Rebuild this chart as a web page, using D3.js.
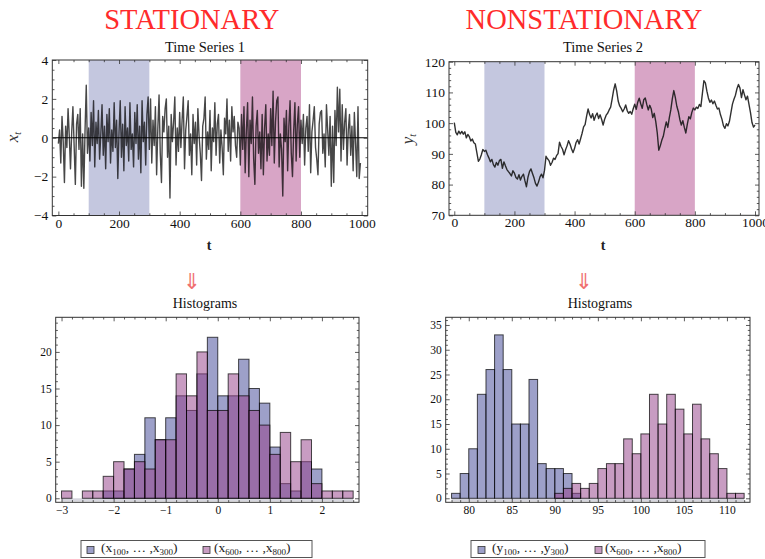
<!DOCTYPE html>
<html>
<head>
<meta charset="utf-8">
<script src="https://cdn.jsdelivr.net/npm/d3@7"></script>
<style>
  body { margin: 0; background: #fff; }
  svg { display: block; }
</style>
</head>
<body>
<svg id="fig" width="765" height="559"></svg>
<script>
// ---------- data ----------
// Time Series 1 (x_t), one value every 4 steps of t
const series1Step = 4;
const series1 = [
  -0.3, 0.4, -1.3, 1.1, -0.2, -2.3, 0.6, -0.5, 1.5, 0.1, -1.6, 0.3, 1.6, -0.4, -2.4, 0.7, 1.2, -0.6, 1.5, -2.5, 0.2, -2.6, 0.4, 2.7, -0.8,
  0.5, -1.2, 1.3, -0.4, 1.9, -1.5, 0.8, -0.3, 1.4, -1.1, 0.2, 1.7, -0.9, 0.6, -1.6, 1.2, -0.2, 1.5, -1.3, 0.4, -0.7, 1.8, -0.5, 0.9, -2.1,
  0.3, 1.9, -1.0, 0.7, -1.7, 1.6, -0.4, 0.5, -1.2, 1.8, -0.6, 0.2, -1.5, 1.3, -0.3, 1.7, -1.1, 0.6, -1.8, 1.9, -0.2, 0.8, -1.4, 1.2, 2.1,
  -0.6, 2.0, -1.3, 0.9, -0.4, 1.6, -1.9, 0.5, 2.2, -0.8, -2.3, 1.1, 0.3, 1.5, 2.0, -1.0, 0.6, -3.1, 1.2, -0.2, 0.8, 2.1, -1.4, 0.5, -0.7,
  1.3, -0.5, 0.9, 2.1, -1.6, 0.4, 1.1, 1.9, -0.9, 0.2, -1.9, 1.2, -0.3, 0.8, -1.4, 1.5, 0.1, -0.8, -2.2, 0.6, 1.0, 2.1, -1.1, 0.3, -0.6,
  1.4, -1.7, 0.5, -0.2, 1.8, -0.9, 0.7, 1.2, -1.3, 0.4, -0.5, -1.9, 1.0, 0.2, 2.0, -0.7, 0.9, -1.2, 1.6, 0.3, 1.1, -0.4, -1.0, 0.8, 0.5,
  -1.4, 1.2, -0.6, 1.6, -1.8, 0.4, 1.8, -2.0, 0.9, -0.3, 2.1, -1.1, -2.4, 0.6, 1.4, -0.8, 0.3, -1.6, 1.2, -1.9, 0.5, 1.7, -1.2, 0.2, -0.9,
  1.5, -0.4, 2.4, -1.3, 0.8, 1.9, 2.1, -1.5, 0.2, -0.6, -3.0, 1.0, -0.2, 1.4, -1.7, 0.6, 1.9, -0.8, -2.0, 0.4, 1.8, -1.2, 0.7, 1.6, -1.0,
  0.9, -0.3, 1.2, -1.4, 0.5, 1.1, -0.7, 1.7, -1.8, 0.3, 0.9, 1.6, -0.5, -1.1, -1.9, 0.7, 1.3, 1.4, -0.8, 0.2, -1.5, 1.7, 0.4, -0.9, 1.1,
  -2.5, 0.6, -2.3, 1.4, -0.4, 2.6, 0.3, 2.5, -1.2, 1.7, -0.6, 0.8, 1.5, -1.4, 0.4, 1.2, -0.9, 0.6, -1.7, 1.3, -0.3, -2.0, 1.6, -2.1, -1.3
];

// Time Series 2 (y_t), one value every 5 steps of t
const series2Step = 5;
const series2 = [
  100.2, 97.0, 96.2, 97.4, 96.5, 97.3, 96.4, 97.2, 95.2, 96.3, 95.6, 94.2, 94.8, 93.6, 93.2, 90.4, 87.6, 88.3, 89.7, 91.4,
  90.8, 91.2, 89.8, 88.7, 87.4, 88.2, 86.5, 85.7, 87.2, 86.3, 87.8, 88.2, 85.3, 87.4, 86.1, 84.9, 84.2, 83.6, 82.8, 84.5,
  83.7, 82.3, 81.8, 83.2, 81.5, 82.7, 83.4, 81.2, 79.3, 82.4, 84.2, 85.1, 83.6, 82.2, 80.4, 79.5, 80.8, 82.5, 83.4, 82.2,
  84.6, 89.2, 88.4, 87.8, 86.3, 87.2, 88.6, 88.2, 89.4, 90.1, 93.8, 92.4, 91.5, 89.7, 91.3, 92.6, 94.3, 93.1, 91.6, 90.4,
  91.8, 93.7, 94.6, 93.2, 94.9, 96.7, 98.8, 99.5, 102.3, 104.6, 102.8, 101.7, 103.1, 100.9, 102.4, 103.3, 101.5, 102.7, 101.2, 99.4,
  101.3, 102.6, 103.2, 104.3, 105.2, 107.9, 110.8, 112.8, 110.5, 107.2, 105.6, 104.8, 103.7, 104.6, 105.9, 104.1, 103.2, 103.8, 102.9, 104.7,
  106.2, 104.5, 106.8, 108.1, 106.3, 104.8, 107.6, 108.2, 106.1, 104.3, 105.8, 104.6, 101.8, 103.2, 100.5, 96.8, 91.2, 92.6, 94.4, 95.7,
  98.2, 100.4, 98.6, 101.7, 104.3, 107.9, 110.6, 108.4, 105.5, 103.8, 101.2, 99.4, 100.8, 98.6, 96.8, 99.7, 102.1, 101.4, 103.5, 104.9,
  104.3, 105.2, 104.8, 106.1, 105.4, 109.6, 113.8, 113.1, 110.4, 108.2, 106.8, 107.5, 106.3, 107.2, 105.8, 104.6, 104.9, 102.8, 101.3, 99.2,
  98.3, 99.8, 99.1, 100.6, 103.4, 106.2, 107.8, 109.1, 111.2, 112.6, 111.4, 108.3, 110.9, 109.2, 107.6, 108.8, 106.1, 103.4, 100.2, 98.7,
  99.4
];

// highlighted windows of t
const windowsT = [[100, 300], [600, 800]];

// histogram of Time Series 1 windows (bin left edges, width 0.2)
const hist1Width = 0.2;
const hist1Bins = [-3.0, -2.8, -2.6, -2.4, -2.2, -2.0, -1.8, -1.6, -1.4, -1.2, -1.0, -0.8, -0.6, -0.4,
                   -0.2, 0.0, 0.2, 0.4, 0.6, 0.8, 1.0, 1.2, 1.4, 1.6, 1.8, 2.0, 2.2, 2.4];
const hist1A = [0, 0, 0, 0, 1, 1, 4, 6, 11, 8, 11, 14, 12, 17, 22, 14, 14, 19, 15, 13, 7, 2, 1, 5, 4, 0, 0, 0];
const hist1B = [1, 0, 1, 1, 3, 5, 4, 5, 4, 8, 8, 17, 14, 20, 12, 12, 17, 14, 12, 10, 6, 9, 5, 8, 2, 1, 1, 1];

// histogram of Time Series 2 windows (bin left edges, width 1)
const hist2Width = 1;
const hist2Bins = [78, 79, 80, 81, 82, 83, 84, 85, 86, 87, 88, 89, 90, 91, 92, 93, 94,
                   95, 96, 97, 98, 99, 100, 101, 102, 103, 104, 105, 106, 107, 108, 109, 110, 111];
const hist2A = [1, 5, 10, 21, 26, 33, 26, 15, 15, 24, 7, 6, 6, 5, 1, 0, 0,
                0, 0, 0, 0, 0, 0, 0, 0, 0, 0, 0, 0, 0, 0, 0, 0, 0];
const hist2B = [0, 0, 0, 0, 0, 0, 0, 0, 0, 0, 0, 0, 1, 2, 3, 2, 3,
                6, 7, 7, 12, 9, 13, 21, 15, 21, 18, 13, 19, 12, 9, 6, 1, 1];

// tick labels
const tsTicksX = [0, 200, 400, 600, 800, 1000];
const ts1TicksY = [-4, -2, 0, 2, 4];
const ts2TicksY = [70, 80, 90, 100, 110, 120];
const hist1TicksX = [-3, -2, -1, 0, 1, 2];
const hist1TicksY = [0, 5, 10, 15, 20];
const hist2TicksX = [80, 85, 90, 95, 100, 105, 110];
const hist2TicksY = [0, 5, 10, 15, 20, 25, 30, 35];

// text
const headings = ["STATIONARY", "NONSTATIONARY"];
const plotTitles = ["Time Series 1", "Time Series 2"];
const legend1 = [["x", "100", "300"], ["x", "600", "800"]];
const legend2 = [["y", "100", "300"], ["x", "600", "800"]];

// ---------- styles ----------
const SERIF = "'Liberation Serif', 'Times New Roman', serif";
const SHADE = ["#c4c7df", "#d8a5c6"];
const BAR = [
  { fill: "#50559f", op: 0.56 },
  { fill: "#95418a", op: 0.52 }
];
const FRAME = "#333";

const svg = d3.select("#fig");

// ---------- helpers ----------
function frameAxes(g, x, y, o) {
  const [x0, x1] = x.range();
  const [yb, yt] = y.range();
  const MAJ = 4, MIN = 2.2;
  const add = (axis, tr, vals, size, fmt, pad, fs) => {
    const a = axis.tickValues(vals).tickSizeInner(-size).tickSizeOuter(0)
      .tickPadding(pad).tickFormat(fmt || (() => ""));
    const s = g.append("g").attr("transform", tr).call(a);
    s.select(".domain").remove();
    s.attr("font-family", SERIF).attr("font-size", fs);
    s.selectAll("line").attr("stroke", FRAME).attr("stroke-width", 0.8);
    s.selectAll("text").attr("fill", "#111");
  };
  const fmt = o.fmt;
  // bottom / left with labels
  add(d3.axisBottom(x), `translate(0,${yb})`, o.xMajor, MAJ, fmt, o.xPad, o.fs);
  add(d3.axisBottom(x), `translate(0,${yb})`, o.xMinor, MIN, null, 0, o.fs);
  add(d3.axisLeft(y), `translate(${x0},0)`, o.yMajor, MAJ, fmt, o.yPad, o.fs);
  add(d3.axisLeft(y), `translate(${x0},0)`, o.yMinor, MIN, null, 0, o.fs);
  // top / right mirrors
  add(d3.axisTop(x), `translate(0,${yt})`, o.xMajor, MAJ, null, 0, o.fs);
  add(d3.axisTop(x), `translate(0,${yt})`, o.xMinor, MIN, null, 0, o.fs);
  add(d3.axisRight(y), `translate(${x1},0)`, o.yMajor, MAJ, null, 0, o.fs);
  add(d3.axisRight(y), `translate(${x1},0)`, o.yMinor, MIN, null, 0, o.fs);
  g.append("rect").attr("x", x0).attr("y", yt).attr("width", x1 - x0).attr("height", yb - yt)
    .attr("fill", "none").attr("stroke", FRAME).attr("stroke-width", 1);
}

function minorTicks(lo, hi, step, majors) {
  return d3.range(lo, hi + step / 2, step)
    .map(v => +v.toFixed(6))
    .filter(v => !majors.some(m => Math.abs(m - v) < 1e-6));
}

function drawSeries(o) {
  const g = svg.append("g");
  const x = d3.scaleLinear().domain(o.xDom).range(o.xRange);
  const y = d3.scaleLinear().domain(o.yDom).range(o.yRange);
  const clipId = "clip" + o.id;
  svg.append("clipPath").attr("id", clipId).append("rect")
    .attr("x", o.xRange[0]).attr("y", o.yRange[1])
    .attr("width", o.xRange[1] - o.xRange[0]).attr("height", o.yRange[0] - o.yRange[1]);
  const inner = g.append("g").attr("clip-path", `url(#${clipId})`);
  windowsT.forEach((w, i) => {
    inner.append("rect")
      .attr("x", x(w[0])).attr("width", x(w[1]) - x(w[0]))
      .attr("y", o.yRange[1]).attr("height", o.yRange[0] - o.yRange[1])
      .attr("fill", SHADE[i]);
  });
  if (o.yDom[0] < 0 && o.yDom[1] > 0) {
    inner.append("line").attr("x1", o.xRange[0]).attr("x2", o.xRange[1])
      .attr("y1", y(0)).attr("y2", y(0)).attr("stroke", "#000").attr("stroke-width", 1);
  }
  const line = d3.line().x((d, i) => x(i * o.step)).y(d => y(d));
  inner.append("path").datum(o.values).attr("d", line)
    .attr("fill", "none").attr("stroke", o.stroke).attr("stroke-width", o.strokeWidth)
    .attr("stroke-opacity", o.strokeOpacity).attr("stroke-linejoin", "round");
  frameAxes(g, x, y, {
    xMajor: tsTicksX, xMinor: minorTicks(0, 1000, 50, tsTicksX),
    yMajor: o.yMajor, yMinor: o.yMinor, fmt: d3.format("d"),
    xPad: 2.5, yPad: 4, fs: 13.5
  });
  // titles and axis labels
  g.append("text").attr("x", o.titleX).attr("y", 52).attr("text-anchor", "middle")
    .attr("font-family", SERIF).attr("font-size", 14.5).attr("fill", "#111").text(o.title);
  g.append("text").attr("x", o.tX).attr("y", 250).attr("text-anchor", "middle")
    .attr("font-family", SERIF).attr("font-size", 14).attr("font-weight", "bold").attr("fill", "#222").text("t");
  const yl = g.append("text").attr("transform", `translate(${o.ylX},${o.ylY}) rotate(-90)`)
    .attr("text-anchor", "middle").attr("font-family", SERIF).attr("font-style", "italic")
    .attr("font-size", 17).attr("fill", "#333");
  yl.append("tspan").text(o.ylLetter);
  yl.append("tspan").attr("font-size", 10).attr("dy", 3).text("t");
}

function drawHist(o) {
  const g = svg.append("g");
  const x = d3.scaleLinear().domain(o.xDom).range(o.xRange);
  const y = d3.scaleLinear().domain(o.yDom).range(o.yRange);
  // baseline strip under the bins
  g.append("rect")
    .attr("x", x(o.bins[0])).attr("width", x(o.bins[o.bins.length - 1] + o.width) - x(o.bins[0]))
    .attr("y", y(0)).attr("height", y(o.yDom[0]) - y(0) - 1)
    .attr("fill", "#d6d6de");
  [o.a, o.b].forEach((counts, k) => {
    const data = o.bins.map((b, i) => ({ b, c: counts[i] })).filter(d => d.c > 0);
    g.append("g").selectAll("rect").data(data).join("rect")
      .attr("x", d => x(d.b)).attr("width", d => x(d.b + o.width) - x(d.b))
      .attr("y", d => y(d.c)).attr("height", d => y(0) - y(d.c))
      .attr("fill", BAR[k].fill).attr("fill-opacity", BAR[k].op)
      .attr("stroke", "#000").attr("stroke-opacity", 0.7).attr("stroke-width", 1);
  });
  frameAxes(g, x, y, {
    xMajor: o.xMajor, xMinor: o.xMinor, yMajor: o.yMajor, yMinor: o.yMinor,
    fmt: d3.format("d"), xPad: 3.5, yPad: 4, fs: 11.5
  });
  g.append("text").attr("x", o.titleX).attr("y", 308).attr("text-anchor", "middle")
    .attr("font-family", SERIF).attr("font-size", 14).attr("fill", "#111").text("Histograms");
}

function drawLegend(o) {
  const g = svg.append("g");
  g.append("rect").attr("x", o.x0).attr("y", 540.5).attr("width", o.x1 - o.x0).attr("height", 17)
    .attr("fill", "#fff").attr("stroke", "#555").attr("stroke-width", 1);
  o.items.forEach((it, i) => {
    g.append("rect").attr("x", o.sw[i]).attr("y", 546.5).attr("width", 7).attr("height", 7)
      .attr("fill", BAR[i].fill).attr("fill-opacity", BAR[i].op)
      .attr("stroke", "#333").attr("stroke-width", 0.8);
    const t = g.append("text").attr("x", o.tx[i]).attr("y", 552)
      .attr("font-family", SERIF).attr("font-size", 13.5).attr("fill", "#222");
    t.append("tspan").text("(" + it[0]);
    t.append("tspan").attr("font-size", 9).attr("dy", 2.5).text(it[1]);
    t.append("tspan").attr("dy", -2.5).text(", \u2026 ," + it[0]);
    t.append("tspan").attr("font-size", 9).attr("dy", 2.5).text(it[2]);
    t.append("tspan").attr("dy", -2.5).text(")");
  });
}

// ---------- headings and arrows ----------
[[191.7, headings[0]], [584, headings[1]]].forEach(([cx, txt]) => {
  svg.append("text").attr("x", cx).attr("y", 28.5).attr("text-anchor", "middle")
    .attr("font-family", SERIF).attr("font-size", 28.5).attr("fill", "#ff2b2b").text(txt);
});
[192, 584].forEach(cx => {
  svg.append("text").attr("x", cx).attr("y", 289).attr("text-anchor", "middle")
    .attr("font-family", "'DejaVu Sans', sans-serif").attr("font-size", 22).attr("fill", "#f07070")
    .text("\u21D3");
});

// ---------- time series ----------
drawSeries({
  id: 1, values: series1, step: series1Step,
  xDom: [-20, 1020], xRange: [52.3, 367.7],
  yDom: [-4, 4], yRange: [215.5, 60],
  yMajor: ts1TicksY, yMinor: minorTicks(-4, 4, 0.5, ts1TicksY),
  stroke: "#000", strokeWidth: 1.4, strokeOpacity: 0.72,
  title: plotTitles[0], titleX: 205, tX: 209, ylX: 18, ylY: 137, ylLetter: "x"
});
drawSeries({
  id: 2, values: series2, step: series2Step,
  xDom: [-17.6, 1013.3], xRange: [449, 759],
  yDom: [70, 120], yRange: [215.3, 61.7],
  yMajor: ts2TicksY, yMinor: minorTicks(70, 120, 2, ts2TicksY),
  stroke: "#1a1a1a", strokeWidth: 1.4, strokeOpacity: 0.9,
  title: plotTitles[1], titleX: 603, tX: 603, ylX: 413, ylY: 139, ylLetter: "y"
});

// ---------- histograms ----------
drawHist({
  bins: hist1Bins, width: hist1Width, a: hist1A, b: hist1B,
  xDom: [-3.112, 2.712], xRange: [55.7, 359],
  yDom: [-0.55, 24.73], yRange: [502.3, 317.3],
  xMajor: hist1TicksX, xMinor: minorTicks(-3, 2.6, 0.2, hist1TicksX),
  yMajor: hist1TicksY, yMinor: minorTicks(0, 24, 1, hist1TicksY),
  titleX: 205
});
drawHist({
  bins: hist2Bins, width: hist2Width, a: hist2A, b: hist2B,
  xDom: [77.32, 112.68], xRange: [445.7, 750],
  yDom: [-0.81, 36.55], yRange: [502.3, 317.3],
  xMajor: hist2TicksX, xMinor: minorTicks(78, 112, 1, hist2TicksX),
  yMajor: hist2TicksY, yMinor: minorTicks(0, 36, 1, hist2TicksY),
  titleX: 600
});

// ---------- legends ----------
drawLegend({ x0: 81, x1: 312, items: legend1, sw: [87, 203], tx: [101, 214] });
drawLegend({ x0: 471, x1: 705, items: legend2, sw: [478, 595], tx: [492, 605] });
</script>
</body>
</html>
